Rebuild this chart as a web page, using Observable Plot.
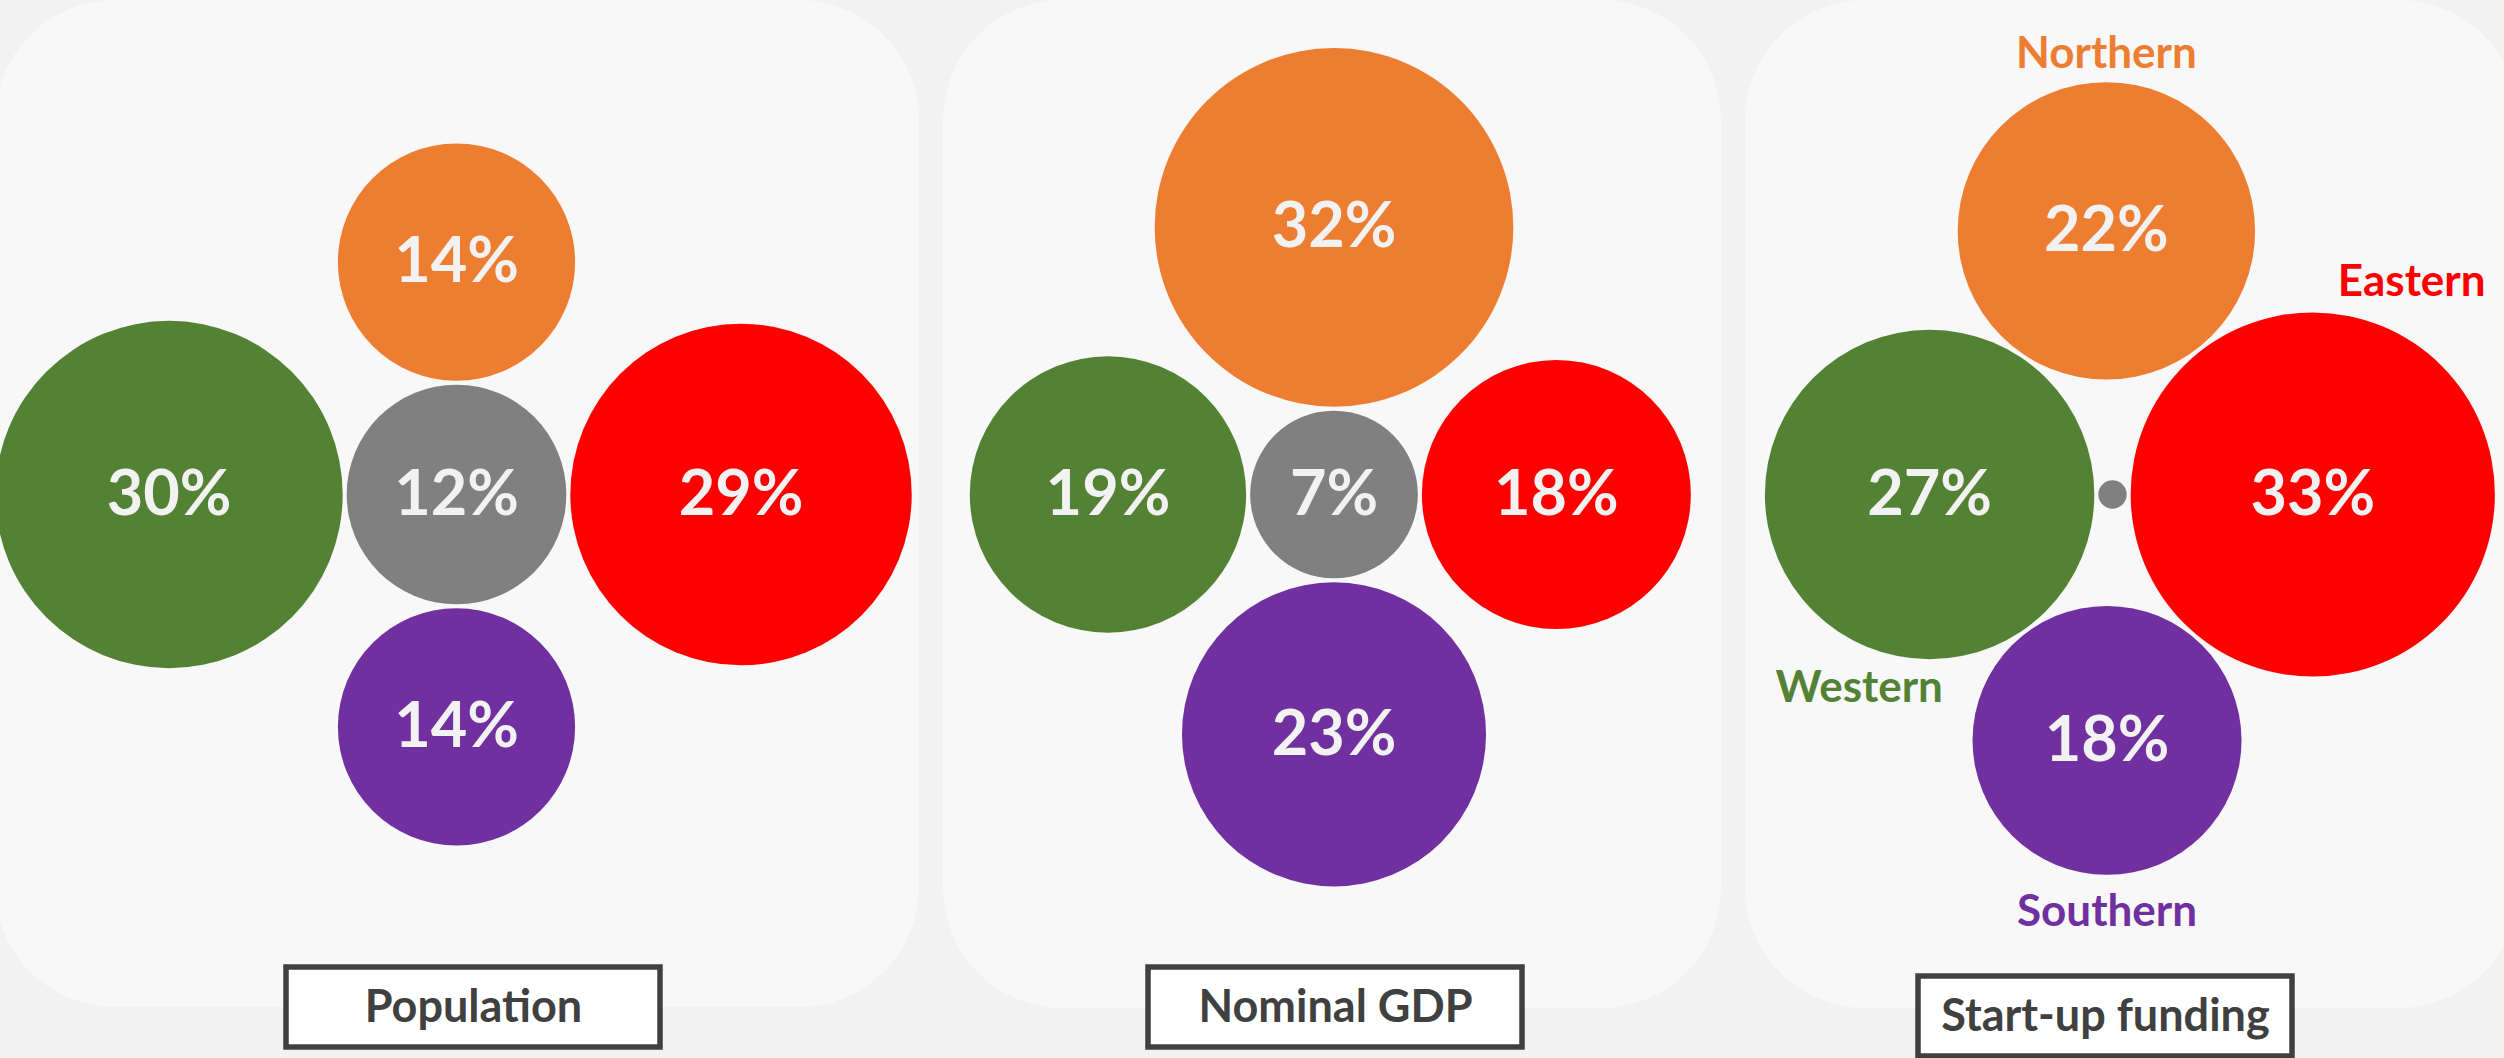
<!DOCTYPE html>
<html>
<head>
<meta charset="utf-8">
<script src="https://cdn.jsdelivr.net/npm/d3@7"></script>
<script src="https://cdn.jsdelivr.net/npm/@observablehq/plot@0.6"></script>
<style>
  html, body { margin: 0; padding: 0; background: #f2f2f2; }
  #chart svg { display: block; }
</style>
</head>
<body>
<div id="chart"></div>
<script>
// ---------- DATA ----------
const metrics = ["Population", "Nominal GDP", "Start-up funding"];
const regions = ["Central", "Northern", "Eastern", "Southern", "Western"];
const regionColors = ["#808080", "#ED7D31", "#FF0000", "#7030A0", "#548235"];
const population = [12, 14, 29, 14, 30];
const nominalGDP = [7, 32, 18, 23, 19];
const startupFunding = [0.2, 22, 33, 18, 27];
const seriesByMetric = [population, nominalGDP, startupFunding];
const namedMetric = "Start-up funding"; // panel that carries region names

// ---------- LAYOUT (positions / styles, not data) ----------
const W = 2504, H = 1058;
const R_MAX = 317;          // radius for 100%
const GAP = 4;
const panels = [
  {cx: 456,    cy: 494, left: -5,   right: 919,  bottom: 1007, boxCx: 473,  boxTop: 967},
  {cx: 1333.5, cy: 494, left: 943,  right: 1721, bottom: 1008, boxCx: 1335, boxTop: 967},
  {cx: 2112,   cy: 494, left: 1745, right: 2519, bottom: 1008, boxCx: 2105, boxTop: 976}
];
const BOX_W = 374, BOX_H = 80;
const labelPlacement = {
  Northern: {angle: -90, pad: 28},
  Eastern:  {angle: -65, pad: 52},
  Southern: {angle: 90,  pad: 37},
  Western:  {angle: 110, pad: 41}
};

const rScale = d3.scaleSqrt().domain([0, 100]).range([0, R_MAX]);

// Flower layout: centre, west/east touching centre, north/south touching
// both west & east (or the centre, whichever is further out).
function flower(values) {
  const v = Object.fromEntries(regions.map((k, i) => [k, values[i]]));
  const rC = rScale(v.Central), rW = rScale(v.Western), rE = rScale(v.Eastern);
  const xW = -(rC + rW + GAP), xE = rC + rE + GAP;
  function side(rX, sign) {
    const dW = rW + rX + GAP, dE = rE + rX + GAP, d = xE - xW;
    const a = (dW * dW - dE * dE + d * d) / (2 * d);
    const h2 = dW * dW - a * a;
    let px = xW + a, py = sign * Math.sqrt(Math.max(0, h2));
    if (h2 < 0 || Math.hypot(px, py) < rC + rX + GAP) { px = 0; py = sign * (rC + rX + GAP); }
    return [px, py];
  }
  return {
    Central: [0, 0],
    Western: [xW, 0],
    Eastern: [xE, 0],
    Northern: side(rScale(v.Northern), -1),
    Southern: side(rScale(v.Southern), 1)
  };
}

const circles = [];
metrics.forEach((m, mi) => {
  const vals = seriesByMetric[mi];
  const pos = flower(vals);
  const p = panels[mi];
  regions.forEach((reg, ri) => {
    circles.push({
      metric: m, region: reg, value: vals[ri],
      x: p.cx + pos[reg][0], y: p.cy + pos[reg][1]
    });
  });
});

const regionNames = circles
  .filter(d => d.metric === namedMetric && labelPlacement[d.region])
  .map(d => {
    const lp = labelPlacement[d.region];
    const dist = rScale(d.value) + lp.pad;
    const a = lp.angle * Math.PI / 180;
    return {region: d.region, x: d.x + dist * Math.cos(a), y: d.y + dist * Math.sin(a)};
  });

const font = "Lato, 'Open Sans', sans-serif";

const chart = Plot.plot({
  width: W, height: H, margin: 0,
  x: {domain: [0, W], range: [0, W], axis: null},
  y: {domain: [0, H], range: [0, H], axis: null},
  r: {type: "sqrt", domain: [0, 100], range: [0, R_MAX]},
  color: {domain: regions, range: regionColors},
  style: {background: "transparent", overflow: "visible"},
  marks: [
    // rounded panel backgrounds
    Plot.rect(metrics, {
      x1: (d, i) => panels[i].left, x2: (d, i) => panels[i].right,
      y1: () => 0, y2: (d, i) => panels[i].bottom,
      fill: "#f8f8f8", rx: 120
    }),
    // circles
    Plot.dot(circles, {x: "x", y: "y", r: "value", fill: "region"}),
    // percent labels
    Plot.text(circles.filter(d => d.value >= 1), {
      x: "x", y: "y", text: d => `${d.value}%`,
      fill: "#F2F2F2", fontSize: 63, fontWeight: "bold", fontFamily: font
    }),
    // region names
    Plot.text(regionNames, {
      x: "x", y: "y", text: "region", fill: "region",
      fontSize: 44, fontWeight: "bold", fontFamily: font
    }),
    // title boxes
    Plot.rect(metrics, {
      x1: (d, i) => panels[i].boxCx - BOX_W / 2, x2: (d, i) => panels[i].boxCx + BOX_W / 2,
      y1: (d, i) => panels[i].boxTop, y2: (d, i) => panels[i].boxTop + BOX_H,
      fill: "white", stroke: "#404040", strokeWidth: 5.5
    }),
    Plot.text(metrics, {
      x: (d, i) => panels[i].boxCx, y: (d, i) => panels[i].boxTop + BOX_H / 2,
      text: d => d, fill: "#404040",
      fontSize: 45, fontWeight: "bold", fontFamily: font
    })
  ]
});
document.getElementById("chart").append(chart);
</script>
</body>
</html>
